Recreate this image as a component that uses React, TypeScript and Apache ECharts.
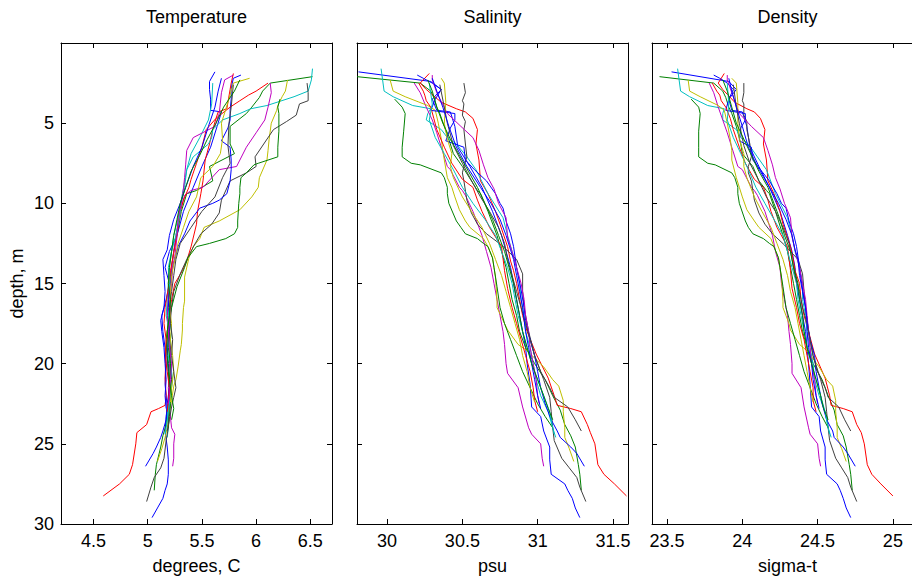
import React, { useEffect, useRef } from "react";
import * as echarts from "echarts";

// MATLAB-style colour order: b g r c m y k ...
const profileColors = [
  "#0000ff", "#008000", "#ff0000", "#00bfbf", "#bf00bf", "#bfbf00", "#404040",
  "#0000ff", "#008000", "#ff0000", "#00bfbf", "#bf00bf", "#bfbf00", "#404040",
  "#0000ff", "#008000",
];

const profileDepths = [
  [1.8, 2.4, 2.9, 3.5, 4.2, 4.3, 5.2, 6.5, 7.7, 9.0, 10.5, 12.0, 13.0, 14.0, 15.0, 16.0, 17.0, 18.0, 19.0, 20.0, 21.3, 22.7, 23.3, 24.2, 25.2, 26.0, 26.9, 27.5, 27.9, 28.4, 29.0, 29.6],
  [2.1, 2.5, 3.0, 3.4, 4.0, 4.4, 5.2, 6.3, 6.9, 7.7, 8.6, 9.2, 9.4, 10.5, 12.0, 13.0, 14.0, 15.0, 16.0, 17.0, 18.0, 19.0, 20.0, 21.0, 22.0, 22.9, 23.8, 24.5, 25.2, 26.3, 26.9, 27.9],
  [1.9, 2.5, 2.9, 3.7, 4.1, 4.3, 4.7, 5.4, 6.3, 7.3, 8.6, 9.4, 10.5, 11.3, 12.7, 13.6, 14.2, 15.0, 16.0, 17.0, 18.0, 19.4, 20.9, 22.0, 22.6, 22.8, 23.0, 23.8, 24.3, 25.0, 26.3, 26.9, 27.5, 28.25],
  [1.6, 2.3, 3.0, 3.35, 3.9, 4.1, 4.4, 4.8, 5.4, 5.9, 6.3, 7.1, 7.9, 9.4, 10.9, 12.0, 13.0, 14.0, 15.0, 16.0, 17.0, 18.0, 19.0, 20.0, 21.0, 22.0, 23.0, 24.0, 24.6],
  [2.5, 3.1, 4.0, 4.8, 5.6, 6.5, 7.7, 7.9, 9.0, 9.2, 9.5, 10.5, 12.0, 13.0, 14.0, 15.0, 16.0, 17.0, 18.0, 18.8, 20.0, 20.6, 21.5, 22.7, 24.0, 24.4, 25.0, 25.9, 26.4],
  [2.3, 3.0, 3.35, 3.9, 4.2, 5.0, 6.0, 6.7, 7.3, 8.4, 9.0, 9.6, 10.4, 11.1, 11.5, 12.2, 12.7, 13.4, 14.6, 16.1, 16.5, 17.5, 17.9, 18.8, 19.2, 20.2, 21.0, 21.4, 22.3, 23.0, 24.0, 24.6, 25.3, 26.1],
  [2.5, 3.1, 3.6, 3.8, 4.5, 4.9, 5.4, 6.3, 7.1, 7.7, 8.1, 8.6, 9.8, 10.6, 11.3, 11.9, 12.6, 13.5, 14.4, 15.5, 16.5, 18.0, 19.5, 21.0, 22.1, 23.0, 24.0, 24.8, 25.9, 26.5, 27.1, 27.7, 28.6],
  [2.0, 2.2, 2.5, 2.9, 3.5, 4.2, 4.4, 4.8, 5.3, 6.1, 6.5, 7.3, 7.9, 8.6, 9.4, 9.8, 10.0, 10.3, 11.1, 11.9, 12.7, 14.0, 15.4, 16.5, 17.3, 18.5, 19.5, 20.5, 21.5, 22.5, 23.5, 24.2, 24.6, 25.2, 25.6, 26.4],
  [3.5, 4.0, 4.4, 5.5, 6.5, 7.1, 7.5, 7.6, 8.1, 8.4, 9.0, 9.4, 10.0, 11.1, 11.5, 11.9, 12.2, 12.5, 12.7, 13.4, 14.0, 15.2, 16.5, 17.5, 18.5, 19.5, 20.5, 21.5, 22.5, 23.3, 24.0],
  [2.5, 3.0, 3.25, 3.6, 4.0, 4.7, 5.4, 6.5, 7.5, 8.5, 9.0, 9.8, 10.5, 11.5, 12.7, 14.2, 15.3, 16.5, 17.5, 18.5, 19.5, 20.5, 21.5, 22.3, 23.0],
  [2.5, 3.8, 4.8, 5.9, 6.9, 7.9, 9.0, 10.0, 11.0, 12.0, 13.0, 14.0, 15.0, 16.0, 17.0, 18.0, 19.0, 20.0, 21.0, 22.0, 23.0, 24.0, 24.4],
  [2.0, 2.3, 3.1, 4.4, 5.2, 5.9, 6.7, 7.6, 8.4, 9.1, 10.0, 10.9, 12.1, 13.3, 14.0, 15.0, 16.0, 17.0, 18.0, 19.0, 20.0, 21.0, 22.0, 22.5],
  [2.2, 2.5, 3.7, 5.0, 6.0, 6.9, 7.7, 8.4, 9.6, 10.5, 11.5, 12.5, 13.5, 14.5, 15.5, 16.5, 17.5, 18.5, 19.5, 20.5, 21.5, 22.4],
  [2.6, 4.0, 5.0, 6.4, 7.5, 8.4, 9.6, 10.5, 11.5, 12.5, 13.5, 14.5, 15.5, 16.5, 17.5, 18.5, 19.5, 20.5, 21.5, 22.1, 22.7, 23.5, 24.2],
  [2.2, 3.0, 4.0, 5.2, 6.5, 7.7, 9.0, 10.0, 11.0, 12.0, 12.9, 13.5, 14.5, 15.5, 16.5, 17.3, 18.0, 19.0, 20.0, 21.0, 22.0, 22.8],
  [2.3, 3.0, 4.0, 5.0, 6.0, 7.0, 8.0, 9.0, 10.0, 11.0, 12.0, 13.0, 14.0, 15.0, 16.0, 17.0, 18.0, 19.0, 20.0, 21.0, 22.0, 22.8, 23.5],
];

const temperature = [
  [5.62, 5.57, 5.57, 5.58, 5.58, 5.68, 5.64, 5.58, 5.50, 5.42, 5.33, 5.27, 5.20, 5.16, 5.20, 5.17, 5.13, 5.14, 5.16, 5.17, 5.16, 5.18, 5.17, 5.16, 5.18, 5.19, 5.19, 5.18, 5.16, 5.14, 5.09, 5.04],
  [6.52, 6.13, 6.06, 6.03, 5.96, 5.91, 5.76, 5.76, 5.80, 5.57, 5.60, 5.45, 5.36, 5.31, 5.27, 5.24, 5.22, 5.20, 5.19, 5.18, 5.20, 5.21, 5.19, 5.20, 5.21, 5.18, 5.17, 5.14, 5.12, 5.08, 5.07, 5.06],
  [5.79, 5.77, 5.76, 5.74, 5.73, 5.65, 5.63, 5.60, 5.57, 5.53, 5.51, 5.49, 5.46, 5.45, 5.40, 5.36, 5.32, 5.25, 5.22, 5.20, 5.18, 5.17, 5.16, 5.17, 5.16, 5.10, 5.03, 4.99, 4.90, 4.89, 4.86, 4.83, 4.74, 4.59],
  [6.52, 6.51, 6.48, 6.35, 6.10, 5.95, 5.85, 5.69, 5.60, 5.59, 5.56, 5.42, 5.36, 5.32, 5.28, 5.24, 5.22, 5.20, 5.19, 5.18, 5.17, 5.20, 5.18, 5.20, 5.22, 5.20, 5.18, 5.19, 5.18],
  [6.13, 6.14, 6.11, 6.08, 6.00, 5.91, 5.82, 5.66, 5.51, 5.40, 5.34, 5.30, 5.26, 5.24, 5.22, 5.21, 5.19, 5.18, 5.20, 5.21, 5.20, 5.21, 5.19, 5.20, 5.22, 5.25, 5.24, 5.24, 5.23],
  [6.29, 6.27, 6.24, 6.20, 6.19, 6.14, 6.12, 6.11, 6.10, 6.03, 6.02, 5.96, 5.85, 5.66, 5.52, 5.48, 5.42, 5.38, 5.34, 5.34, 5.33, 5.32, 5.32, 5.31, 5.30, 5.28, 5.26, 5.24, 5.22, 5.20, 5.18, 5.16, 5.13, 5.09],
  [6.47, 6.48, 6.48, 6.40, 6.37, 6.28, 6.16, 6.07, 5.99, 6.00, 5.91, 5.76, 5.68, 5.66, 5.59, 5.49, 5.43, 5.36, 5.30, 5.24, 5.22, 5.20, 5.21, 5.22, 5.21, 5.19, 5.19, 5.17, 5.15, 5.12, 5.06, 5.03, 4.99],
  [5.86, 5.79, 5.78, 5.77, 5.77, 5.76, 5.76, 5.76, 5.74, 5.68, 5.76, 5.77, 5.77, 5.76, 5.73, 5.66, 5.60, 5.48, 5.39, 5.34, 5.28, 5.23, 5.20, 5.19, 5.20, 5.19, 5.18, 5.19, 5.20, 5.18, 5.17, 5.14, 5.12, 5.08, 5.05, 4.98],
  [6.22, 6.20, 6.21, 6.21, 6.20, 6.20, 6.02, 5.98, 5.91, 5.86, 5.85, 5.85, 5.84, 5.83, 5.83, 5.80, 5.72, 5.57, 5.45, 5.37, 5.34, 5.27, 5.22, 5.19, 5.17, 5.18, 5.19, 5.20, 5.21, 5.20, 5.19],
  [6.11, 6.00, 5.93, 5.85, 5.76, 5.63, 5.54, 5.50, 5.45, 5.40, 5.38, 5.33, 5.30, 5.28, 5.25, 5.21, 5.19, 5.16, 5.15, 5.17, 5.16, 5.18, 5.20, 5.19, 5.18],
  [5.60, 5.59, 5.56, 5.48, 5.40, 5.36, 5.34, 5.31, 5.29, 5.26, 5.22, 5.19, 5.20, 5.21, 5.19, 5.22, 5.20, 5.21, 5.23, 5.21, 5.19, 5.17, 5.16],
  [5.79, 5.71, 5.68, 5.66, 5.62, 5.42, 5.36, 5.35, 5.34, 5.33, 5.31, 5.28, 5.27, 5.25, 5.23, 5.22, 5.20, 5.21, 5.19, 5.20, 5.22, 5.21, 5.20, 5.19],
  [5.94, 5.79, 5.74, 5.68, 5.69, 5.67, 5.60, 5.49, 5.45, 5.38, 5.33, 5.28, 5.25, 5.22, 5.21, 5.20, 5.22, 5.21, 5.23, 5.24, 5.22, 5.21],
  [5.79, 5.77, 5.75, 5.74, 5.76, 5.69, 5.62, 5.50, 5.40, 5.30, 5.26, 5.24, 5.22, 5.20, 5.21, 5.23, 5.22, 5.24, 5.26, 5.24, 5.22, 5.20, 5.18],
  [5.68, 5.65, 5.62, 5.56, 5.50, 5.42, 5.35, 5.30, 5.24, 5.20, 5.18, 5.14, 5.15, 5.16, 5.15, 5.12, 5.13, 5.15, 5.16, 5.17, 5.16, 5.17],
  [5.85, 5.80, 5.70, 5.63, 5.55, 5.48, 5.40, 5.35, 5.30, 5.27, 5.24, 5.22, 5.20, 5.19, 5.21, 5.20, 5.18, 5.19, 5.21, 5.20, 5.22, 5.24, 5.22],
];

const salinity = [
  [29.81, 30.29, 30.36, 30.30, 30.33, 30.42, 30.45, 30.47, 30.55, 30.63, 30.70, 30.76, 30.79, 30.82, 30.84, 30.86, 30.88, 30.90, 30.92, 30.93, 30.95, 30.96, 31.02, 31.04, 31.08, 31.08, 31.09, 31.18, 31.20, 31.23, 31.25, 31.28],
  [29.80, 30.22, 30.29, 30.31, 30.33, 30.35, 30.38, 30.42, 30.44, 30.50, 30.56, 30.60, 30.62, 30.67, 30.73, 30.76, 30.79, 30.81, 30.83, 30.86, 30.88, 30.92, 30.98, 31.05, 31.10, 31.15, 31.18, 31.22, 31.25, 31.27, 31.28, 31.29],
  [30.28, 30.22, 30.26, 30.36, 30.46, 30.52, 30.57, 30.60, 30.59, 30.61, 30.62, 30.67, 30.72, 30.75, 30.80, 30.82, 30.84, 30.86, 30.88, 30.90, 30.93, 30.99, 31.07, 31.11, 31.13, 31.22, 31.29, 31.33, 31.35, 31.38, 31.40, 31.44, 31.51, 31.59],
  [29.96, 29.97, 29.98, 30.04, 30.17, 30.29, 30.27, 30.26, 30.36, 30.40, 30.46, 30.53, 30.59, 30.67, 30.77, 30.80, 30.83, 30.86, 30.88, 30.89, 30.91, 30.92, 30.95, 30.97, 30.99, 31.02, 31.07, 31.10, 31.12],
  [30.18, 30.22, 30.26, 30.30, 30.33, 30.36, 30.40, 30.42, 30.48, 30.50, 30.52, 30.57, 30.63, 30.66, 30.69, 30.71, 30.73, 30.75, 30.77, 30.78, 30.79, 30.80, 30.87, 30.90, 30.94, 30.96, 31.02, 31.03, 31.04],
  [30.02, 30.04, 30.12, 30.27, 30.32, 30.34, 30.36, 30.37, 30.38, 30.40, 30.43, 30.45, 30.48, 30.52, 30.55, 30.64, 30.67, 30.70, 30.72, 30.73, 30.73, 30.78, 30.80, 30.87, 30.93, 31.04, 31.10, 31.14, 31.17, 31.17, 31.18, 31.18, 31.21, 31.24],
  [30.51, 30.52, 30.50, 30.51, 30.50, 30.52, 30.51, 30.52, 30.53, 30.51, 30.50, 30.51, 30.53, 30.56, 30.60, 30.66, 30.76, 30.86, 30.90, 30.90, 30.91, 30.94, 30.98, 31.04, 31.08, 31.09, 31.10, 31.11, 31.16, 31.21, 31.26, 31.28, 31.32],
  [30.20, 30.24, 30.30, 30.36, 30.32, 30.29, 30.45, 30.45, 30.42, 30.39, 30.51, 30.52, 30.58, 30.66, 30.72, 30.74, 30.75, 30.77, 30.79, 30.82, 30.84, 30.86, 30.89, 30.91, 30.92, 30.95, 30.98, 31.00, 31.02, 31.05, 31.09, 31.13, 31.15, 31.22, 31.26, 31.31],
  [30.05, 30.10, 30.12, 30.11, 30.10, 30.10, 30.16, 30.22, 30.36, 30.38, 30.40, 30.40, 30.41, 30.46, 30.49, 30.52, 30.60, 30.64, 30.67, 30.70, 30.71, 30.73, 30.75, 30.78, 30.82, 30.86, 30.90, 30.95, 31.00, 31.05, 31.10],
  [30.21, 30.24, 30.25, 30.26, 30.29, 30.31, 30.33, 30.38, 30.43, 30.50, 30.57, 30.60, 30.63, 30.68, 30.76, 30.78, 30.80, 30.83, 30.86, 30.89, 30.92, 30.95, 30.97, 30.98, 31.00],
  [30.28, 30.30, 30.28, 30.32, 30.38, 30.44, 30.50, 30.57, 30.65, 30.72, 30.76, 30.80, 30.83, 30.85, 30.87, 30.90, 30.93, 30.96, 31.00, 31.04, 31.08, 31.10, 31.11],
  [30.30, 30.30, 30.33, 30.40, 30.49, 30.57, 30.61, 30.64, 30.67, 30.71, 30.74, 30.79, 30.80, 30.84, 30.86, 30.89, 30.91, 30.92, 30.94, 30.95, 30.97, 30.99, 31.00, 31.01],
  [30.36, 30.38, 30.39, 30.38, 30.40, 30.43, 30.42, 30.44, 30.50, 30.56, 30.63, 30.68, 30.72, 30.76, 30.79, 30.82, 30.85, 30.88, 30.90, 30.93, 30.95, 30.98],
  [30.35, 30.38, 30.40, 30.44, 30.50, 30.55, 30.62, 30.68, 30.74, 30.78, 30.80, 30.83, 30.86, 30.89, 30.92, 30.95, 30.98, 31.02, 31.08, 31.11, 31.20, 31.25, 31.29],
  [30.30, 30.33, 30.37, 30.41, 30.46, 30.53, 30.62, 30.69, 30.75, 30.79, 30.82, 30.84, 30.86, 30.88, 30.90, 30.91, 30.92, 30.94, 30.96, 30.98, 31.00, 31.02],
  [30.27, 30.30, 30.33, 30.37, 30.42, 30.48, 30.54, 30.60, 30.65, 30.70, 30.74, 30.78, 30.81, 30.84, 30.86, 30.88, 30.90, 30.93, 30.96, 31.00, 31.04, 31.07, 31.10],
];

const density = [
  [23.53, 23.91, 23.96, 23.91, 23.93, 24.00, 24.03, 24.05, 24.11, 24.18, 24.25, 24.30, 24.33, 24.35, 24.36, 24.38, 24.40, 24.42, 24.43, 24.44, 24.45, 24.46, 24.51, 24.52, 24.55, 24.55, 24.56, 24.63, 24.65, 24.67, 24.69, 24.72],
  [23.45, 23.81, 23.87, 23.89, 23.91, 23.93, 23.96, 23.99, 24.00, 24.07, 24.11, 24.16, 24.18, 24.22, 24.27, 24.30, 24.32, 24.34, 24.36, 24.38, 24.40, 24.43, 24.47, 24.53, 24.57, 24.61, 24.63, 24.67, 24.69, 24.71, 24.72, 24.73],
  [23.88, 23.84, 23.87, 23.95, 24.03, 24.08, 24.12, 24.15, 24.14, 24.16, 24.17, 24.21, 24.25, 24.27, 24.32, 24.34, 24.35, 24.38, 24.39, 24.41, 24.44, 24.48, 24.55, 24.58, 24.59, 24.67, 24.73, 24.76, 24.79, 24.81, 24.83, 24.86, 24.92, 25.00],
  [23.57, 23.58, 23.59, 23.65, 23.77, 23.88, 23.87, 23.87, 23.96, 23.99, 24.04, 24.10, 24.16, 24.22, 24.30, 24.33, 24.35, 24.38, 24.40, 24.40, 24.42, 24.43, 24.45, 24.47, 24.48, 24.51, 24.55, 24.57, 24.59],
  [23.78, 23.81, 23.84, 23.87, 23.90, 23.93, 23.97, 24.00, 24.06, 24.08, 24.10, 24.15, 24.20, 24.22, 24.25, 24.26, 24.28, 24.30, 24.31, 24.32, 24.33, 24.33, 24.39, 24.41, 24.44, 24.45, 24.50, 24.51, 24.52],
  [23.64, 23.65, 23.72, 23.84, 23.88, 23.90, 23.92, 23.93, 23.93, 23.96, 23.98, 24.00, 24.03, 24.08, 24.11, 24.19, 24.21, 24.24, 24.26, 24.27, 24.27, 24.31, 24.32, 24.38, 24.43, 24.51, 24.56, 24.60, 24.62, 24.62, 24.63, 24.63, 24.66, 24.69],
  [24.01, 24.01, 24.00, 24.01, 24.01, 24.03, 24.03, 24.05, 24.06, 24.04, 24.04, 24.06, 24.08, 24.11, 24.15, 24.20, 24.28, 24.37, 24.40, 24.41, 24.42, 24.44, 24.47, 24.52, 24.55, 24.56, 24.57, 24.58, 24.62, 24.66, 24.70, 24.72, 24.76],
  [23.81, 23.85, 23.90, 23.94, 23.91, 23.89, 24.02, 24.02, 23.99, 23.98, 24.06, 24.07, 24.12, 24.18, 24.23, 24.25, 24.26, 24.29, 24.31, 24.34, 24.36, 24.38, 24.40, 24.42, 24.43, 24.45, 24.48, 24.49, 24.51, 24.53, 24.56, 24.60, 24.61, 24.67, 24.70, 24.75],
  [23.66, 23.71, 23.72, 23.71, 23.71, 23.71, 23.77, 23.82, 23.93, 23.95, 23.97, 23.97, 23.98, 24.02, 24.04, 24.07, 24.14, 24.18, 24.21, 24.24, 24.25, 24.27, 24.29, 24.32, 24.35, 24.38, 24.41, 24.45, 24.49, 24.53, 24.57],
  [23.80, 23.83, 23.85, 23.86, 23.89, 23.92, 23.94, 23.98, 24.02, 24.08, 24.14, 24.17, 24.19, 24.23, 24.30, 24.32, 24.33, 24.36, 24.38, 24.41, 24.43, 24.45, 24.47, 24.47, 24.49],
  [23.90, 23.91, 23.90, 23.94, 23.99, 24.04, 24.09, 24.15, 24.21, 24.27, 24.30, 24.33, 24.36, 24.37, 24.39, 24.41, 24.43, 24.46, 24.49, 24.52, 24.55, 24.57, 24.58],
  [23.90, 23.90, 23.93, 23.98, 24.06, 24.14, 24.17, 24.20, 24.22, 24.25, 24.28, 24.32, 24.33, 24.36, 24.38, 24.40, 24.42, 24.43, 24.44, 24.45, 24.46, 24.48, 24.49, 24.50],
  [23.93, 23.96, 23.97, 23.97, 23.98, 24.01, 24.01, 24.03, 24.08, 24.13, 24.19, 24.23, 24.27, 24.30, 24.32, 24.35, 24.37, 24.39, 24.41, 24.43, 24.45, 24.47],
  [23.94, 23.96, 23.98, 24.01, 24.05, 24.10, 24.16, 24.22, 24.27, 24.31, 24.33, 24.35, 24.38, 24.40, 24.43, 24.45, 24.47, 24.50, 24.55, 24.57, 24.64, 24.68, 24.72],
  [23.91, 23.93, 23.96, 24.00, 24.04, 24.10, 24.18, 24.24, 24.29, 24.33, 24.35, 24.37, 24.38, 24.40, 24.42, 24.43, 24.43, 24.44, 24.46, 24.47, 24.49, 24.51],
  [23.87, 23.90, 23.93, 23.96, 24.01, 24.06, 24.11, 24.17, 24.21, 24.25, 24.28, 24.32, 24.34, 24.37, 24.38, 24.40, 24.41, 24.43, 24.46, 24.49, 24.52, 24.54, 24.57],
];

const depthTicks = [5, 10, 15, 20, 25, 30];
const tempTicks = [4.5, 5, 5.5, 6, 6.5];
const salTicks = [30, 30.5, 31, 31.5];
const densTicks = [23.5, 24, 24.5, 25];

const panelTitles = ["Temperature", "Salinity", "Density"];
const panelXNames = ["degrees, C", "psu", "sigma-t"];
const panelRanges = [
  [4.2, 6.7],
  [29.8, 31.6],
  [23.4, 25.2],
];
const panelTicks = [tempTicks, salTicks, densTicks];
const panelValues = [temperature, salinity, density];

const FONT = "'Liberation Sans', Arial, Helvetica, sans-serif";
const GRID_LEFTS = [61, 357, 652];
const GRID_W = 271;
const GRID_TOP = 43;
const GRID_H = 481;
const AX = "#000000";

export default function App() {
  const ref = useRef<HTMLDivElement>(null);

  useEffect(() => {
    document.body.style.margin = "0";
    document.body.style.overflow = "hidden";
    if (!ref.current) return;
    const chart = echarts.init(ref.current, null, { renderer: "svg" });

    const grids: any[] = [];
    const xAxes: any[] = [];
    const yAxes: any[] = [];
    const series: any[] = [];
    const graphics: any[] = [];

    for (let i = 0; i < 3; i++) {
      grids.push({
        left: GRID_LEFTS[i],
        top: GRID_TOP,
        width: GRID_W,
        height: GRID_H,
        containLabel: false,
        outerBoundsMode: "none",
      });
      const [mn, mx] = panelRanges[i];
      const ticks = panelTicks[i];
      xAxes.push({
        type: "value",
        gridIndex: i,
        position: "bottom",
        min: mn,
        max: mx,
        axisLine: { show: true, onZero: false, lineStyle: { color: AX, width: 1 } },
        axisTick: { show: true, inside: true, length: 5, customValues: ticks, lineStyle: { color: AX, width: 1 } },
        axisLabel: {
          show: true,
          customValues: ticks,
          color: "#000",
          fontSize: 18,
          fontFamily: FONT,
          margin: 8,
          formatter: (v: number) => String(v),
        },
        splitLine: { show: false },
        name: panelXNames[i],
        nameLocation: "middle",
        nameGap: 33,
        nameTextStyle: { color: "#000", fontSize: 18, fontFamily: FONT },
      });
      xAxes.push({
        type: "value",
        gridIndex: i,
        position: "top",
        min: mn,
        max: mx,
        axisLine: { show: true, onZero: false, lineStyle: { color: AX, width: 1 } },
        axisTick: { show: true, inside: true, length: 5, customValues: ticks, lineStyle: { color: AX, width: 1 } },
        axisLabel: { show: false },
        splitLine: { show: false },
      });
      yAxes.push({
        type: "value",
        gridIndex: i,
        position: "left",
        inverse: true,
        min: 0,
        max: 30,
        interval: 5,
        axisLine: { show: true, onZero: false, lineStyle: { color: AX, width: 1 } },
        axisTick: { show: true, inside: true, length: 5, customValues: depthTicks, lineStyle: { color: AX, width: 1 } },
        axisLabel: {
          show: i === 0,
          customValues: depthTicks,
          color: "#000",
          fontSize: 18,
          fontFamily: FONT,
          margin: 7,
          formatter: (v: number) => String(v),
        },
        splitLine: { show: false },
        name: i === 0 ? "depth, m" : "",
        nameLocation: "middle",
        nameGap: 35,
        nameRotate: 90,
        nameTextStyle: { color: "#000", fontSize: 18, fontFamily: FONT },
      });
      yAxes.push({
        type: "value",
        gridIndex: i,
        position: "right",
        inverse: true,
        min: 0,
        max: 30,
        interval: 5,
        axisLine: { show: true, onZero: false, lineStyle: { color: AX, width: 1 } },
        axisTick: { show: true, inside: true, length: 5, customValues: depthTicks, lineStyle: { color: AX, width: 1 } },
        axisLabel: { show: false },
        splitLine: { show: false },
      });

      const values = panelValues[i];
      for (let p = 0; p < profileDepths.length; p++) {
        const ds = profileDepths[p];
        const vs = values[p];
        const n = Math.min(ds.length, vs.length);
        const data: number[][] = [];
        for (let k = 0; k < n; k++) data.push([vs[k], ds[k]]);
        series.push({
          type: "line",
          name: `${panelTitles[i]} ${p + 1}`,
          xAxisIndex: 2 * i,
          yAxisIndex: 2 * i,
          data,
          showSymbol: false,
          symbol: "none",
          silent: true,
          clip: true,
          lineStyle: { color: profileColors[p], width: 1 },
          itemStyle: { color: profileColors[p] },
          z: 2 + p * 0.01,
        });
      }

      graphics.push({
        type: "text",
        x: GRID_LEFTS[i] + GRID_W / 2,
        y: 17,
        style: {
          text: panelTitles[i],
          fill: "#000",
          font: `18px ${FONT}`,
          align: "center",
          verticalAlign: "middle",
        },
      });
    }

    chart.setOption({
      animation: false,
      backgroundColor: "#ffffff",
      grid: grids,
      xAxis: xAxes,
      yAxis: yAxes,
      series,
      graphic: graphics,
      tooltip: { show: false },
    });

    return () => {
      chart.dispose();
    };
  }, []);

  return (
    <div
      ref={ref}
      style={{
        position: "absolute",
        left: 0,
        top: 0,
        width: 930,
        height: 578,
        background: "#ffffff",
      }}
    />
  );
}
